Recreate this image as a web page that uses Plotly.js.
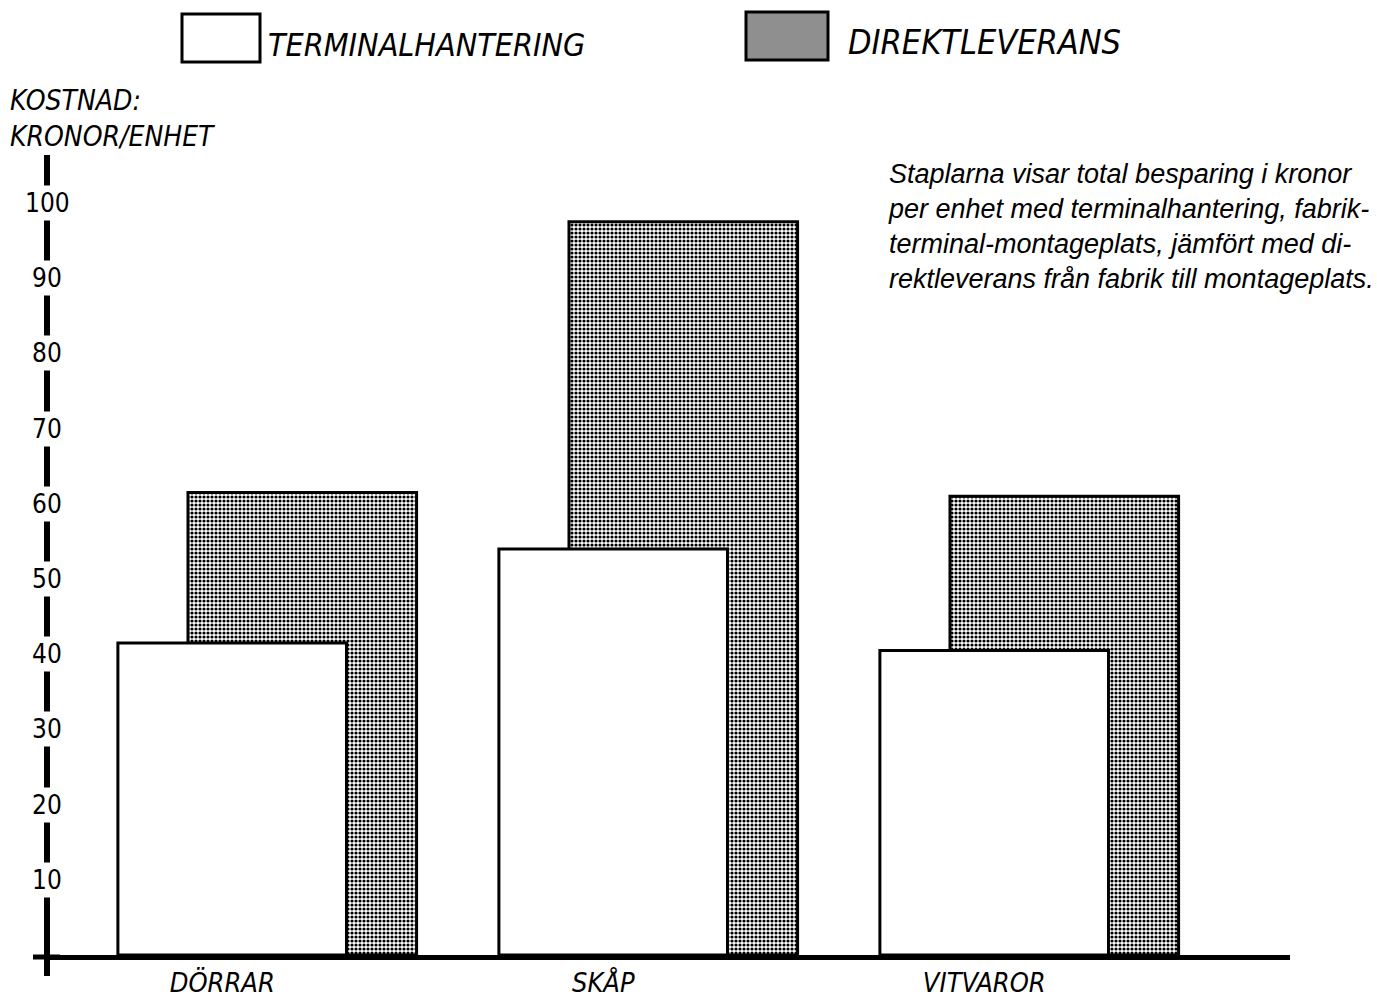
<!DOCTYPE html>
<html>
<head>
<meta charset="utf-8">
<script src="https://cdn.plot.ly/plotly-3.0.1.min.js"></script>
<style>html,body{margin:0;padding:0;background:#fff;}#chart{width:1377px;height:1001px;}</style>
</head>
<body>
<div id="chart"></div>
<script>
// ---- data ----
const categories = ['DÖRRAR', 'SKÅP', 'VITVAROR'];
const terminalhantering = [41.5, 54, 40.5];
const direktleverans = [61.5, 97.5, 61];
const seriesNames = ['TERMINALHANTERING', 'DIREKTLEVERANS'];
const yTickVals = [10, 20, 30, 40, 50, 60, 70, 80, 90, 100];
const yTickText = ['10', '20', '30', '40', '50', '60', '70', '80', '90', '100'];
const yTitleLines = ['KOSTNAD:', 'KRONOR/ENHET'];
const noteText = 'Staplarna visar total besparing i kronor<br>per enhet med terminalhantering, fabrik-<br>terminal-montageplats, jämfört med di-<br>rektleverans från fabrik till montageplats.';

// ---- layout helpers ----
const W = 1377, H = 1001;
const M = {l: 50, r: 87, t: 155, b: 46};
const pw = W - M.l - M.r, ph = H - M.t - M.b;
const px2x = px => (px - M.l) / pw;
const py2y = py => (H - M.b - py) / ph;

const hand = 'Liberation Sans Narrow, DejaVu Sans Condensed, Arial Narrow, sans-serif';
const xIdx = categories.map((_, i) => i);

const traces = [
  {
    type: 'bar', name: seriesNames[1], x: xIdx, y: direktleverans,
    width: 0.6, offset: -0.21,
    marker: {color: 'white', line: {color: 'black', width: 3},
      pattern: {shape: '.', size: 4, solidity: 0.5, fgcolor: 'black', bgcolor: 'white'}},
    hoverinfo: 'y'
  },
  {
    type: 'bar', name: seriesNames[0], x: xIdx, y: terminalhantering,
    width: 0.6, offset: -0.394,
    marker: {color: 'white', line: {color: 'black', width: 3}},
    hoverinfo: 'y'
  }
];

const annotations = [];
yTickVals.forEach((v, i) => {
  annotations.push({
    xref: 'paper', yref: 'y', x: px2x(47), y: v, text: yTickText[i],
    showarrow: false, xanchor: 'center', yanchor: 'middle',
    bgcolor: 'white', borderpad: 2,
    font: {family: hand, size: 26, color: 'black'}
  });
});
annotations.push({
  xref: 'paper', yref: 'paper', x: px2x(8), y: py2y(82), xanchor: 'left', yanchor: 'top',
  align: 'left', showarrow: false, text: yTitleLines.join('<br>'),
  font: {family: hand, size: 28, color: 'black', style: 'italic'}
});
annotations.push({
  xref: 'paper', yref: 'paper', x: px2x(266), y: py2y(45), xanchor: 'left', yanchor: 'middle',
  showarrow: false, text: seriesNames[0],
  font: {family: hand, size: 32, color: 'black', style: 'italic'}
});
annotations.push({
  xref: 'paper', yref: 'paper', x: px2x(846), y: py2y(42), xanchor: 'left', yanchor: 'middle',
  showarrow: false, text: seriesNames[1],
  font: {family: hand, size: 34, color: 'black', style: 'italic'}
});
annotations.push({
  xref: 'paper', yref: 'paper', x: px2x(1376), y: py2y(157), xanchor: 'right', yanchor: 'top',
  align: 'left', showarrow: false, text: noteText,
  font: {family: 'Liberation Sans, Arial, sans-serif', size: 27, color: 'black', style: 'italic'}
});

const shapes = [
  {type: 'rect', xref: 'paper', yref: 'paper', x0: px2x(182), x1: px2x(260), y0: py2y(62), y1: py2y(14),
   fillcolor: 'white', line: {color: 'black', width: 3}},
  {type: 'rect', xref: 'paper', yref: 'paper', x0: px2x(746), x1: px2x(828), y0: py2y(60), y1: py2y(12),
   fillcolor: '#8f8f8f', line: {color: 'black', width: 3}},
  {type: 'line', xref: 'paper', yref: 'paper', x0: px2x(47), x1: px2x(47), y0: py2y(955), y1: py2y(976),
   line: {color: 'black', width: 6}},
  {type: 'line', xref: 'paper', yref: 'paper', x0: px2x(33), x1: px2x(60), y0: py2y(957), y1: py2y(957),
   line: {color: 'black', width: 5}}
];

const layout = {
  width: W, height: H,
  margin: M,
  paper_bgcolor: 'white', plot_bgcolor: 'white',
  barmode: 'overlay',
  showlegend: false,
  xaxis: {
    range: [(M.l - 268) / 381, (M.l - 268) / 381 + pw / 381],
    tickvals: xIdx.map(i => i - 0.12), ticktext: categories,
    ticks: '', showgrid: false, zeroline: false,
    showline: true, linewidth: 5, linecolor: 'black',
    ticklabelstandoff: 0,
    tickfont: {family: hand, size: 27, color: 'black', style: 'italic'}
  },
  yaxis: {
    range: [0, ph / 7.52],
    showticklabels: false, ticks: '', showgrid: false, zeroline: false,
    showline: true, linewidth: 6, linecolor: 'black'
  },
  annotations: annotations,
  shapes: shapes
};

Plotly.newPlot('chart', traces, layout, {displayModeBar: false, staticPlot: true});
</script>
</body>
</html>
